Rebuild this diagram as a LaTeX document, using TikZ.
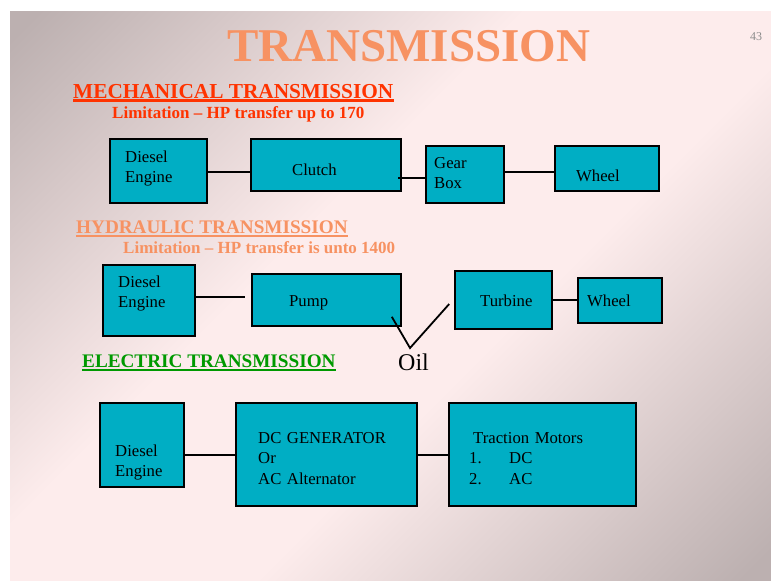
\documentclass[tikz,border=0pt]{standalone}
\usepackage{fontspec}
\setmainfont{Liberation Serif}
\usetikzlibrary{calc}
\definecolor{titleorange}{RGB}{247,146,98}
\definecolor{mechred}{RGB}{255,51,0}
\definecolor{elecgreen}{RGB}{0,153,0}
\definecolor{boxteal}{RGB}{0,174,196}
\definecolor{bgdark}{RGB}{188,176,176}
\definecolor{bglight}{RGB}{253,236,236}
\definecolor{pagegray}{RGB}{140,140,140}
\pgfdeclareverticalshading{slidebg}{100bp}{color(0bp)=(bgdark); color(16bp)=(bgdark); color(42bp)=(bglight); color(58bp)=(bglight); color(84bp)=(bgdark); color(100bp)=(bgdark)}

\begin{document}
\begin{tikzpicture}[x=1pt, y=-1pt,
  box/.style={draw=black, line width=1.6pt, fill=boxteal, inner sep=0pt},
  wire/.style={line width=1.8pt},
  txt/.style={anchor=base west, inner sep=0pt, text width=140pt, align=left,
    font=\fontsize{16.7}{20.5}\selectfont},
  head/.style={anchor=base west, inner sep=0pt, font=\fontsize{19.2}{22}\selectfont\bfseries},
  limit/.style={anchor=base west, inner sep=0pt, font=\fontsize{17}{20}\selectfont\bfseries}]
  \useasboundingbox (0,0) rectangle (771,581);
  \fill[white] (0,0) rectangle (771,581);
  % slide background
  \shade[shading=slidebg, shading angle=45] (10,11) rectangle (771,580);
  \node[anchor=base west, inner sep=0pt, text=titleorange,
    font=\fontsize{47}{50}\selectfont\bfseries] (title) at (227,61) {TRANSMISSION};
  \node[anchor=base west, inner sep=0pt, text=pagegray,
    font=\fontsize{12}{14}\selectfont] (pageno) at (750,40) {43};

  % Mechanical
  \node[head, text=mechred, font=\fontsize{21.3}{24}\selectfont\bfseries] (mechHead) at (73,98) {MECHANICAL TRANSMISSION};
  \draw[mechred, line width=2.2pt] ($(mechHead.base west)+(0,2.5)$) -- ($(mechHead.base east)+(0,2.5)$);
  \node[limit, text=mechred] (mechLimit) at (112,118) {Limitation -- HP transfer up to 170};
  \node[box, minimum width=97pt, minimum height=64pt] (mDiesel) at (158.5,171) {};
  \node[box, minimum width=150pt, minimum height=52pt] (mClutch) at (326,165) {};
  \node[box, minimum width=78pt, minimum height=57pt] (mGear) at (465,174.5) {};
  \node[box, minimum width=104pt, minimum height=45pt] (mWheel) at (607,168.5) {};
  \node[txt] (mDieselTxt) at (125,162) {Diesel\\Engine};
  \node[txt] (mClutchTxt) at (292,175) {Clutch};
  \node[txt] (mGearTxt) at (434,168) {Gear\\Box};
  \node[txt] (mWheelTxt) at (576,181) {Wheel};
  \draw[wire] (mDiesel.east |- 0,172) -- (mClutch.west |- 0,172);
  \draw[wire] (mGear.west |- 0,178) -- ($(mClutch.east |- 0,178)+(-4,0)$);
  \draw[wire] (mGear.east |- 0,172) -- (mWheel.west |- 0,172);

  % Hydraulic
  \node[head, text=titleorange] (hydHead) at (76,233) {HYDRAULIC TRANSMISSION};
  \draw[titleorange, line width=2pt] ($(hydHead.base west)+(0,2.5)$) -- ($(hydHead.base east)+(0,2.5)$);
  \node[limit, text=titleorange] (hydLimit) at (123,253) {Limitation -- HP transfer is unto 1400};
  \node[box, minimum width=92pt, minimum height=71pt] (hDiesel) at (149,300.5) {};
  \node[box, minimum width=149pt, minimum height=52pt] (hPump) at (326.5,300) {};
  \node[box, minimum width=97pt, minimum height=58pt] (hTurbine) at (503.5,300) {};
  \node[box, minimum width=84pt, minimum height=45pt] (hWheel) at (620,300.5) {};
  \node[txt] (hDieselTxt) at (118,287) {Diesel\\Engine};
  \node[txt] (hPumpTxt) at (289,306) {Pump};
  \node[txt] (hTurbineTxt) at (480,306) {Turbine};
  \node[txt] (hWheelTxt) at (587,306) {Wheel};
  \node[anchor=base west, inner sep=0pt, font=\fontsize{24}{26}\selectfont] (oil) at (398,370) {Oil};
  \coordinate (oilTip) at (410,348);
  \draw[wire] (hDiesel.east |- 0,297) -- ($(hPump.west |- 0,297)+(-6,0)$);
  \draw[wire] ($(hPump.south east)+(-10,-10)$) -- (oilTip) -- ($(hTurbine.west)+(-5,4)$);
  \draw[wire] (hTurbine.east) -- (hTurbine.east -| hWheel.west);

  % Electric
  \node[head, text=elecgreen] (elecHead) at (82,367) {ELECTRIC TRANSMISSION};
  \draw[elecgreen, line width=2pt] ($(elecHead.base west)+(0,2.5)$) -- ($(elecHead.base east)+(0,2.5)$);
  \node[box, minimum width=84pt, minimum height=84pt] (eDiesel) at (142,445) {};
  \node[box, minimum width=181pt, minimum height=103pt] (eGen) at (326.5,454.5) {};
  \node[box, minimum width=187pt, minimum height=103pt] (eTraction) at (542.5,454.5) {};
  \node[txt] (eDieselTxt) at (115,456) {Diesel\\Engine};
  \node[txt] (eGenTxt) at (258,443) {DC GENERATOR\\Or\\AC Alternator};
  \node[txt] (eTractionTxt) at (473,443) {Traction Motors\\
    \hspace*{-4pt}\makebox[40pt][l]{1.}DC\\
    \hspace*{-4pt}\makebox[40pt][l]{2.}AC};
  \draw[wire] (eDiesel.east |- 0,455) -- (eGen.west |- 0,455);
  \draw[wire] (eGen.east |- 0,455) -- (eTraction.west |- 0,455);
\end{tikzpicture}
\end{document}
